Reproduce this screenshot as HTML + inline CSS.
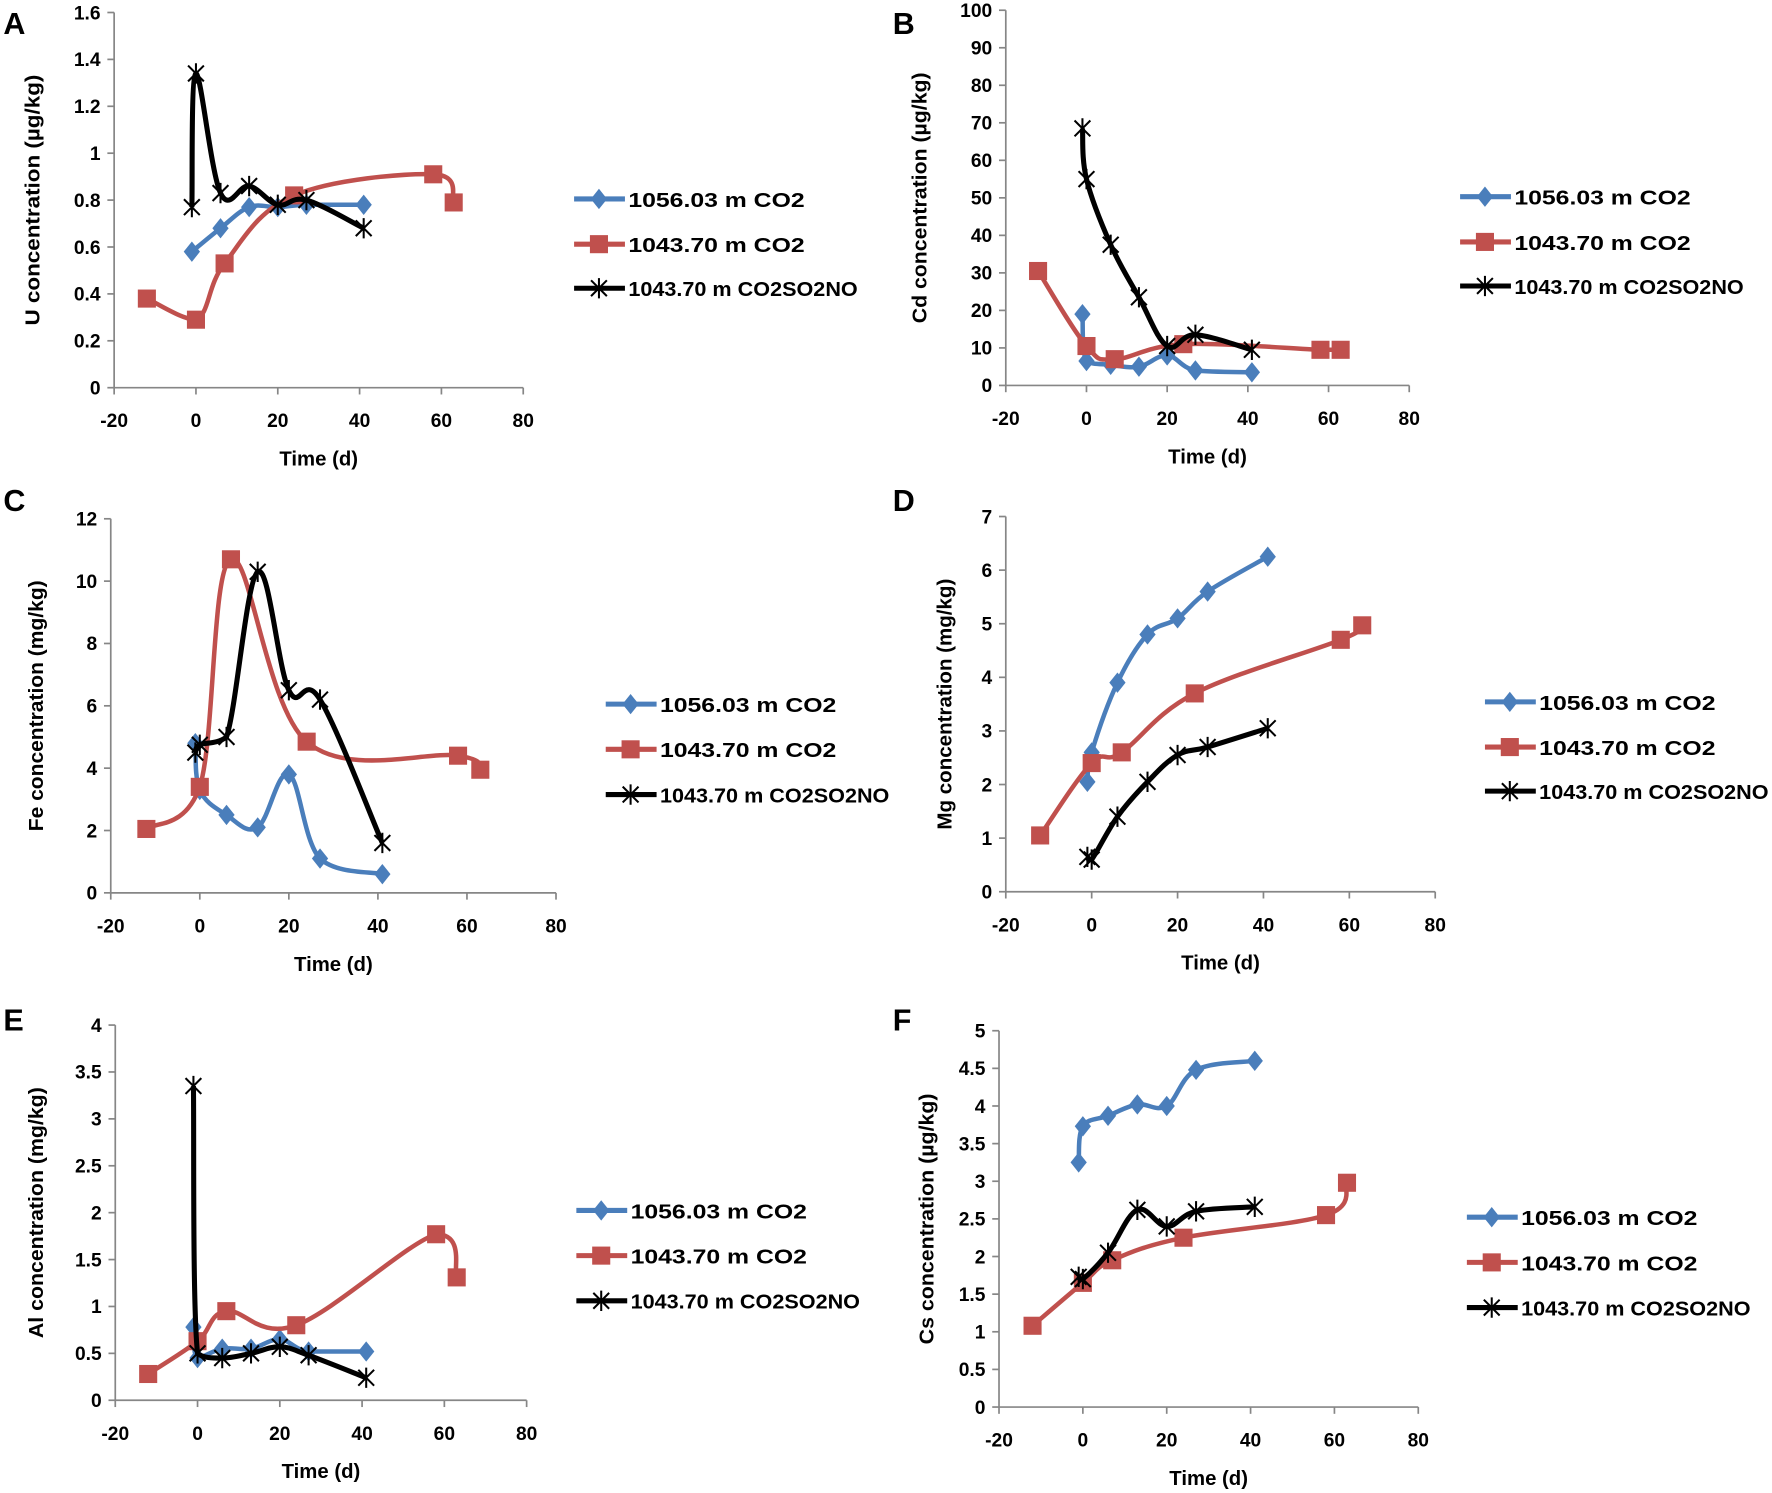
<!DOCTYPE html>
<html><head><meta charset="utf-8"><style>
html,body{margin:0;padding:0;background:#fff;}
svg{display:block;font-family:"Liberation Sans",Arial,sans-serif;font-weight:bold;}
</style></head><body>
<svg id="fig" width="1772" height="1493" viewBox="0 0 1568 1321" xmlns="http://www.w3.org/2000/svg"></svg>
<script>
// ---- data ----
const seriesNames = ["1056.03 m CO2","1043.70 m CO2","1043.70 m CO2SO2NO"];
const xTicks = [-20,0,20,40,60,80];
const timesBlue = [-1,0,6,13,20,27,41];
const timesRed = [-12,0,7,24,58,63];
const timesBlack = [-1,0,6,13,20,27,41];
// A
const A_blue_x = [-1,6,13,20,27,41];
const A_blue_y = [0.58,0.68,0.77,0.77,0.78,0.78];
const A_red_y = [0.38,0.29,0.53,0.82,0.91,0.79];
const A_black_y = [0.77,1.34,0.83,0.86,0.78,0.80,0.68];
const A_yTicks = ["0","0.2","0.4","0.6","0.8","1","1.2","1.4","1.6"];
// B
const B_blue_y = [19,6.5,5.5,5,8,4,3.5];
const B_red_y = [30.5,10.5,7,11,9.5,9.5];
const B_black_y = [68.5,55,37.5,23.5,10.5,13.5,9.5];
const B_yTicks = ["0","10","20","30","40","50","60","70","80","90","100"];
// C
const C_blue_y = [4.8,3.3,2.5,2.1,3.8,1.1,0.6];
const C_red_y = [2.05,3.4,10.7,4.85,4.4,3.95];
const C_black_y = [4.5,4.75,5.0,10.3,6.5,6.2,1.6];
const C_yTicks = ["0","2","4","6","8","10","12"];
// D
const D_blue_y = [2.05,2.6,3.9,4.8,5.1,5.6,6.25];
const D_red_y = [1.05,2.4,2.6,3.7,4.7,4.97];
const D_black_y = [0.65,0.6,1.4,2.05,2.55,2.7,3.05];
const D_yTicks = ["0","1","2","3","4","5","6","7"];
// E
const E_blue_y = [0.78,0.45,0.55,0.55,0.65,0.52,0.52];
const E_red_y = [0.28,0.63,0.95,0.8,1.77,1.31];
const E_black_y = [3.35,0.5,0.45,0.5,0.57,0.48,0.24];
const E_yTicks = ["0","0.5","1","1.5","2","2.5","3","3.5","4"];
// F
const F_blue_y = [3.25,3.73,3.87,4.02,4.0,4.48,4.6];
const F_red_y = [1.08,1.65,1.95,2.25,2.55,2.98];
const F_black_y = [1.73,1.7,2.05,2.62,2.4,2.6,2.66];
const F_yTicks = ["0","0.5","1","1.5","2","2.5","3","3.5","4","4.5","5"];

const panels = [
 {id:"A",ax:101,top:11,bot:343,xr:463,ymax:1.6,ticks:A_yTicks,title:"U concentration (µg/kg)",tx:35,lx:508,ly:[176,216,255],lab:[3,30],
  s:[[A_blue_x,A_blue_y],[timesRed,A_red_y],[timesBlack,A_black_y]]},
 {id:"B",ax:890,top:9,bot:341,xr:1247,ymax:100,ticks:B_yTicks,title:"Cd concentration (µg/kg)",tx:820,lx:1292,ly:[174,214,253],lab:[790,30],
  s:[[timesBlue,B_blue_y],[timesRed,B_red_y],[timesBlack,B_black_y]]},
 {id:"C",ax:98,top:459,bot:790,xr:492,ymax:12,ticks:C_yTicks,title:"Fe concentration (mg/kg)",tx:38,lx:536,ly:[623,663,703],lab:[3,452],
  s:[[timesBlue,C_blue_y],[timesRed,C_red_y],[timesBlack,C_black_y]]},
 {id:"D",ax:890,top:457,bot:789,xr:1270,ymax:7,ticks:D_yTicks,title:"Mg concentration (mg/kg)",tx:842,lx:1314,ly:[621,661,700],lab:[790,452],
  s:[[timesBlue,D_blue_y],[timesRed,D_red_y],[timesBlack,D_black_y]]},
 {id:"E",ax:102,top:907,bot:1239,xr:466,ymax:4,ticks:E_yTicks,title:"Al concentration (mg/kg)",tx:38,lx:510,ly:[1071,1111,1151],lab:[3,912],
  s:[[timesBlue,E_blue_y],[timesRed,E_red_y],[timesBlack,E_black_y]]},
 {id:"F",ax:884,top:912,bot:1245,xr:1255,ymax:5,ticks:F_yTicks,title:"Cs concentration (µg/kg)",tx:826,lx:1298,ly:[1077,1117,1157],lab:[790,912],
  s:[[timesBlue,F_blue_y],[timesRed,F_red_y],[timesBlack,F_black_y]]}
];
const colors=["#4a7ebb","#c0504d","#000000"];
const NS="http://www.w3.org/2000/svg";
const svg=document.getElementById("fig");
function mk(tag,attrs,parent){const e=document.createElementNS(NS,tag);for(const k in attrs)e.setAttribute(k,attrs[k]);(parent||svg).appendChild(e);return e;}
function smooth(pts){
 if(pts.length<2)return "";
 let d="M"+pts[0][0]+","+pts[0][1];
 for(let i=0;i<pts.length-1;i++){
  const p0=pts[Math.max(0,i-1)],p1=pts[i],p2=pts[i+1],p3=pts[Math.min(pts.length-1,i+2)];
  const t=0.18;
  let c1=[p1[0]+(p2[0]-p0[0])*t,p1[1]+(p2[1]-p0[1])*t];
  let c2=[p2[0]-(p3[0]-p1[0])*t,p2[1]-(p3[1]-p1[1])*t];
  const lo=Math.min(p1[1],p2[1]),hi=Math.max(p1[1],p2[1]);
  // clamp overshoot on segments that touch a very short neighbour
  const short=(a,b)=>Math.abs(a[0]-b[0])<10;
  if(short(p0,p1)||short(p1,p2)||short(p2,p3)){
   c1[1]=Math.min(hi,Math.max(lo,c1[1]));c2[1]=Math.min(hi,Math.max(lo,c2[1]));
  }
  d+=" C"+c1[0]+","+c1[1]+" "+c2[0]+","+c2[1]+" "+p2[0]+","+p2[1];
 }
 return d;
}
function marker(g,k,x,y){
 if(k===0){const s=9;const m=mk("polygon",{points:`${x},${y-s} ${x+s*0.8},${y} ${x},${y+s} ${x-s*0.8},${y}`,fill:colors[0]},g);}
 else if(k===1){const s=8;const m=mk("rect",{x:x-s,y:y-s,width:2*s,height:2*s,fill:colors[1]},g);}
 else{const s=7;const m=mk("path",{d:`M${x-s},${y-s}L${x+s},${y+s}M${x-s},${y+s}L${x+s},${y-s}M${x},${y-s-2}L${x},${y+s+2}`,stroke:"#000","stroke-width":1.8,fill:"none"},g);}
}
panels.forEach(p=>{
 const g=mk("g",{});
 
 
 const X=v=>p.ax+(v+20)/100*(p.xr-p.ax);
 const Y=v=>p.bot-v/p.ymax*(p.bot-p.top);
 const lab=mk("text",{x:p.lab[0],y:p.lab[1],"font-size":27,fill:"#000"},g);lab.textContent=p.id;
 
 const axes=mk("path",{d:`M${p.ax},${p.top}L${p.ax},${p.bot}L${p.xr},${p.bot}`,stroke:"#868686","stroke-width":1.5,fill:"none"},g);
 
 p.ticks.forEach((t,i)=>{const v=i*p.ymax/(p.ticks.length-1);const y=Y(v);
  mk("line",{x1:p.ax-6,x2:p.ax,y1:y,y2:y,stroke:"#868686","stroke-width":1.5},g);
  const tx=mk("text",{x:p.ax-12,y:y+6,"font-size":17,"text-anchor":"end",fill:"#000"},g);tx.textContent=t;
  });
 xTicks.forEach(v=>{const x=X(v);
  mk("line",{x1:x,x2:x,y1:p.bot,y2:p.bot+6,stroke:"#868686","stroke-width":1.5},g);
  const tx=mk("text",{x:x,y:p.bot+35,"font-size":17,"text-anchor":"middle",fill:"#000"},g);tx.textContent=v;
  });
 const xt=mk("text",{x:(p.ax+p.xr)/2,y:p.bot+69,"font-size":18,"text-anchor":"middle",fill:"#000"},g);xt.textContent="Time (d)";
 
 const cy=(p.top+p.bot)/2;
 const yt=mk("text",{x:p.tx,y:cy,"font-size":18,"text-anchor":"middle",fill:"#000",transform:`rotate(-90 ${p.tx} ${cy})`,textLength:222,lengthAdjust:"spacingAndGlyphs"},g);yt.textContent=p.title;
 
 p.s.forEach((s,k)=>{
  const pts=s[0].map((x,i)=>[X(x),Y(s[1][i])]);
  const ln=mk("path",{d:smooth(pts),stroke:colors[k],"stroke-width":k===2?4.5:4,fill:"none","stroke-linejoin":"round"},g);
  
  pts.forEach(q=>marker(g,k,q[0],q[1]));
  const ly=p.ly[k];
  const le=mk("g",{},g);
  mk("line",{x1:p.lx,x2:p.lx+45,y1:ly,y2:ly,stroke:colors[k],"stroke-width":4.5},le);
  marker(le,k,p.lx+22,ly);
  const lt=mk("text",{x:p.lx+48,y:ly+7,"font-size":18,fill:"#000",textLength:[156,156,203][k],lengthAdjust:"spacingAndGlyphs"},le);lt.textContent=seriesNames[k];
 });
});
</script>
</body></html>
